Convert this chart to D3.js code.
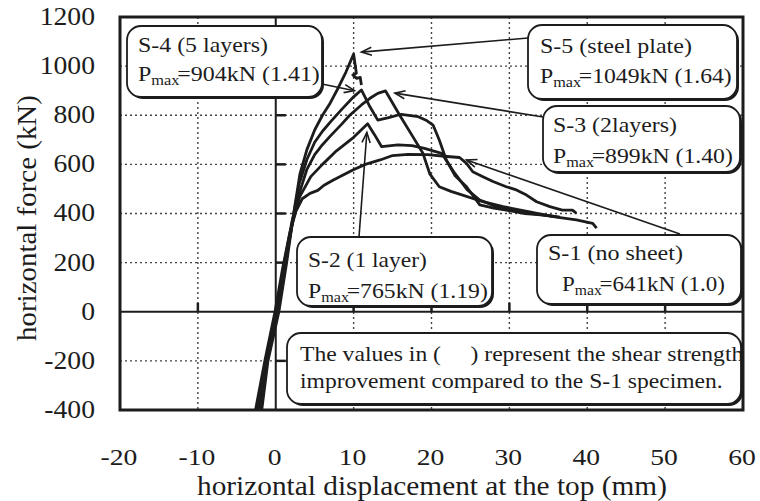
<!DOCTYPE html>
<html>
<head>
<meta charset="utf-8">
<script src="https://cdn.jsdelivr.net/npm/d3@7"></script>
<style>
  body { margin: 0; background: #fff; }
  svg text { font-family: "Liberation Serif", "Times New Roman", serif; fill: #1c1c1c; }
</style>
</head>
<body>
<div id="chart"></div>
<script>
// load-displacement envelopes, [displacement mm, force kN]
const s1 = [[-2.6,-400],[-1.4,-200],[-0.1,0],[0.9,180],[1.8,320],[2.6,410],[3.4,460],[4.4,482],[5.4,494],[6.2,515],[7.4,536],[9.9,577],[11.5,600],[13.4,618],[15,636],[17,641],[19.5,640],[22,632],[23.6,628],[24.5,604],[25.3,570],[26.6,550],[27.9,530],[29.6,509],[30.9,496],[32.2,475],[33.5,448],[35.2,428],[36.8,414],[38.1,414],[38.6,401]];
const s2 = [[-2.4,-400],[-1.3,-200],[0.1,0],[1.1,200],[2.1,370],[3.1,470],[4.5,550],[6,600],[7.8,655],[10,710],[11.8,765],[12.7,720],[13.6,672],[15.7,679],[17.5,676],[19.1,665],[21.3,645],[23,563],[24.6,496],[26.2,455],[28,432],[30,415],[33,400],[36.5,385]];
const s3 = [[-2.2,-400],[-1.2,-200],[0.2,0],[1.2,200],[2.2,370],[3.1,490],[4,580],[5,640],[6,680],[7,715],[8.5,765],[9.5,800],[11,842],[12.1,869],[13.1,889],[14.1,899],[15.9,801],[17.6,713],[18.9,645],[19.8,560],[21,509],[22.5,490],[24,475],[26.6,448],[29.2,428],[32.6,407],[35.6,387],[38.6,374],[40.7,360],[41.2,340]];
const s4 = [[-2.0,-400],[-1.1,-200],[0.3,0],[1.3,200],[2.2,380],[3,520],[4,620],[5,690],[6,735],[7,772],[8.5,825],[10,875],[11,903],[12,840],[13.1,780],[14.5,790],[16.1,804],[18.3,794],[19.3,780],[20.2,760],[21,699],[21.9,618],[23,555],[24.5,509],[26.2,435],[28,422],[29.6,414],[32,400],[34,394],[36,387]];
const s5 = [[-1.8,-400],[-1.0,-200],[0.4,0],[1.4,200],[2.3,400],[3.1,560],[4,660],[5,740],[6,800],[7,850],[8,910],[9,975],[10,1049],[10.35,971],[9.9,964],[10.4,950],[10.85,954],[11.0,923]];
const series = [s1, s2, s3, s4, s5];

const xTicks = [-20, -10, 0, 10, 20, 30, 40, 50, 60];
const yTicks = [-400, -200, 0, 200, 400, 600, 800, 1000, 1200];
const xGrid = [-10, 10, 20, 30, 40, 50];
const yGrid = [-200, 200, 400, 600, 800, 1000];
const xTitle = "horizontal displacement at the top (mm)";
const yTitle = "horizontal force (kN)";

// label text: name, Pmax value, ratio
const labels = [
  { name: "S-4 (5 layers)",     pmax: "904",  ratio: "(1.41)" },
  { name: "S-5 (steel plate)",  pmax: "1049", ratio: "(1.64)" },
  { name: "S-3 (2layers)",      pmax: "899",  ratio: "(1.40)" },
  { name: "S-2 (1 layer)",      pmax: "765",  ratio: "(1.19)" },
  { name: "S-1 (no sheet)",     pmax: "641",  ratio: "(1.0)" }
];
// arrow targets on the curves [displacement, force]
const arrowTips = [[10.1, 900], [11.0, 1057], [15.3, 890], [11.7, 730], [24.5, 618]];
const note = ["The values in (\u00a0\u00a0\u00a0\u00a0\u00a0) represent the shear strength",
              "improvement compared to the S-1 specimen."];

const width = 760, height = 501;
const svg = d3.select("#chart").append("svg")
  .attr("width", width).attr("height", height);

const x = d3.scaleLinear().domain([-20, 60]).range([120, 743]);
const y = d3.scaleLinear().domain([-400, 1200]).range([410, 17]);
const ink = "#1c1c1c";

// the scanned lettering is wider than Times, stretch it horizontally
function stretch(t, sx, anchorX) {
  t.attr("transform", `translate(${anchorX},0) scale(${sx},1) translate(${-anchorX},0)`);
}
function fitWidth(t, x0, w) {
  const bw = t.node().getBBox().width;
  stretch(t, w / bw, x0);
}

// dotted grid
svg.append("g").selectAll("line").data(xGrid).join("line")
  .attr("x1", d => x(d)).attr("x2", d => x(d))
  .attr("y1", y(1200)).attr("y2", y(-400))
  .attr("stroke", "#444").attr("stroke-width", 1.4).attr("stroke-dasharray", "2,3");
svg.append("g").selectAll("line").data(yGrid).join("line")
  .attr("x1", x(-20)).attr("x2", x(60))
  .attr("y1", d => y(d)).attr("y2", d => y(d))
  .attr("stroke", "#444").attr("stroke-width", 1.4).attr("stroke-dasharray", "2,3");

// zero axes with inner ticks
svg.append("line").attr("x1", x(0)).attr("x2", x(0)).attr("y1", y(1200)).attr("y2", y(-400))
  .attr("stroke", ink).attr("stroke-width", 2);
svg.append("line").attr("x1", x(-20)).attr("x2", x(60)).attr("y1", y(0)).attr("y2", y(0))
  .attr("stroke", ink).attr("stroke-width", 2);
svg.append("g").selectAll("line").data(yGrid).join("line")
  .attr("x1", x(0)).attr("x2", x(0) + 10)
  .attr("y1", d => y(d)).attr("y2", d => y(d))
  .attr("stroke", ink).attr("stroke-width", 2.5);
svg.append("g").selectAll("line").data(xGrid).join("line")
  .attr("x1", d => x(d)).attr("x2", d => x(d))
  .attr("y1", y(0)).attr("y2", y(0) - 9)
  .attr("stroke", ink).attr("stroke-width", 2.5);

// curves
const line = d3.line().x(d => x(d[0])).y(d => y(d[1]));
svg.append("g").selectAll("path").data(series).join("path")
  .attr("d", line)
  .attr("fill", "none").attr("stroke", ink)
  .attr("stroke-width", 2.8).attr("stroke-linejoin", "round");

// frame
svg.append("rect")
  .attr("x", x(-20)).attr("y", y(1200))
  .attr("width", x(60) - x(-20)).attr("height", y(-400) - y(1200))
  .attr("fill", "none").attr("stroke", ink).attr("stroke-width", 3);

// tick labels
svg.append("g").selectAll("text").data(xTicks).join("text")
  .attr("x", d => x(d) - 1).attr("y", 465)
  .attr("text-anchor", "middle").attr("font-size", 24)
  .text(d => d)
  .each(function(d) { stretch(d3.select(this), 1.15, x(d) - 1); });
svg.append("g").selectAll("text").data(yTicks).join("text")
  .attr("x", 95).attr("y", d => y(d) + 8)
  .attr("text-anchor", "end").attr("font-size", 24.5)
  .text(d => d)
  .each(function() { stretch(d3.select(this), 1.13, 95); });

// axis titles
const xt = svg.append("text").attr("x", 197).attr("y", 495)
  .attr("font-size", 27).text(xTitle);
fitWidth(xt, 197, 470);
const yt = svg.append("g").attr("transform", "translate(36,218) rotate(-90)");
const ytt = yt.append("text").attr("x", -123).attr("y", 0)
  .attr("font-size", 28).text(yTitle);
fitWidth(ytt, -123, 246);

// arrows from boxes to curves
const arrowFrom = [[322, 84], [528, 38], [543, 117], [359, 237], [680, 234]];
function arrow(from, tip) {
  const tx = x(tip[0]), ty = y(tip[1]);
  const a = Math.atan2(from[1] - ty, from[0] - tx);
  const g = svg.append("g").attr("stroke", ink).attr("stroke-width", 1.6).attr("fill", "none");
  g.append("line").attr("x1", from[0]).attr("y1", from[1]).attr("x2", tx).attr("y2", ty);
  const len = 11, spread = 0.38;
  g.append("path")
    .attr("d", `M${tx + len * Math.cos(a + spread)},${ty + len * Math.sin(a + spread)}L${tx},${ty}L${tx + len * Math.cos(a - spread)},${ty + len * Math.sin(a - spread)}`);
}
arrowTips.forEach((t, i) => arrow(arrowFrom[i], t));

// rounded label boxes with a heavier lower-right edge
function box(x0, y0, w, h) {
  svg.append("rect").attr("x", x0 + 2).attr("y", y0 + 2).attr("width", w).attr("height", h)
    .attr("rx", 14).attr("fill", ink);
  svg.append("rect").attr("x", x0).attr("y", y0).attr("width", w).attr("height", h)
    .attr("rx", 14).attr("fill", "#fff").attr("stroke", ink).attr("stroke-width", 1.8);
}
function pmaxText(tx, ty, lab, w) {
  const t = svg.append("text").attr("x", tx).attr("y", ty).attr("font-size", 20.5);
  t.append("tspan").text("P");
  t.append("tspan").attr("font-size", 14).attr("dy", 4).text("max");
  t.append("tspan").attr("dy", -4).attr("dx", -2).text("=" + lab.pmax + "kN " + lab.ratio);
  fitWidth(t, tx, w);
}
const boxes = [
  { x: 127, y: 26,  w: 195, h: 71, tx: 138, ty: 52,  nw: 130, px: 138, py: 81,  pw: 182 },
  { x: 528, y: 25,  w: 209, h: 74, tx: 540, ty: 53,  nw: 152, px: 540, py: 83,  pw: 192 },
  { x: 543, y: 106, w: 197, h: 66, tx: 553, ty: 132, nw: 124, px: 553, py: 163, pw: 180 },
  { x: 297, y: 237, w: 195, h: 69, tx: 308, ty: 267, nw: 119, px: 308, py: 298, pw: 180 },
  { x: 537, y: 235, w: 204, h: 69, tx: 548, ty: 260, nw: 135, px: 562, py: 291, pw: 163 }
];
boxes.forEach((b, i) => {
  box(b.x, b.y, b.w, b.h);
  const t = svg.append("text").attr("x", b.tx).attr("y", b.ty).attr("font-size", 20.5).text(labels[i].name);
  fitWidth(t, b.tx, b.nw);
  pmaxText(b.px, b.py, labels[i], b.pw);
});

// explanatory note
box(287, 333, 454, 71);
const noteW = [444, 423];
note.forEach((s, i) => {
  const t = svg.append("text").attr("x", 300).attr("y", 361 + i * 27).attr("font-size", 21).text(s);
  fitWidth(t, 300, noteW[i]);
});
</script>
</body>
</html>
